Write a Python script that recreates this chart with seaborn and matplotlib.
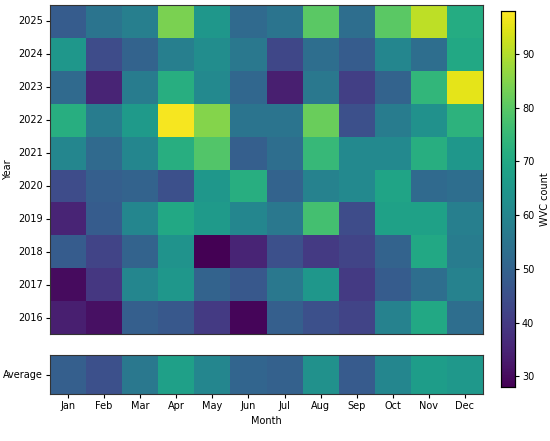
import numpy as np
import pandas as pd
import matplotlib
matplotlib.use("Agg")
import matplotlib.pyplot as plt
import seaborn as sns

months = ["Jan", "Feb", "Mar", "Apr", "May", "Jun", "Jul", "Aug", "Sep", "Oct", "Nov", "Dec"]
years = [2025, 2024, 2023, 2022, 2021, 2020, 2019, 2018, 2017, 2016]

# monthly WVC counts (top row = 2025)
wvc_2025 = [48, 55, 58, 84, 65, 52, 55, 80, 53, 80, 91, 71]
wvc_2024 = [65, 44, 50, 58, 62, 56, 43, 53, 48, 60, 53, 70]
wvc_2023 = [52, 35, 57, 72, 61, 51, 34, 56, 41, 50, 74, 95]
wvc_2022 = [72, 57, 66, 97, 85, 55, 55, 82, 45, 57, 63, 73]
wvc_2021 = [60, 52, 60, 72, 79, 49, 53, 75, 61, 61, 72, 65]
wvc_2020 = [44, 49, 50, 45, 65, 72, 50, 59, 61, 69, 52, 53]
wvc_2019 = [35, 48, 60, 70, 66, 60, 56, 77, 44, 68, 68, 58]
wvc_2018 = [48, 42, 50, 64, 28, 35, 45, 40, 42, 50, 70, 57]
wvc_2017 = [30, 39, 60, 65, 50, 47, 56, 65, 40, 48, 53, 59]
wvc_2016 = [34, 31, 49, 47, 40, 29, 49, 45, 42, 59, 70, 53]

rows = [wvc_2025, wvc_2024, wvc_2023, wvc_2022, wvc_2021,
        wvc_2020, wvc_2019, wvc_2018, wvc_2017, wvc_2016]
df = pd.DataFrame(rows, index=years, columns=months)
avg = pd.DataFrame([df.mean(axis=0).values], index=["Average"], columns=months)

vmin, vmax = 28, 98

fig = plt.figure(figsize=(5.5, 4.41), dpi=100)
ax_main = fig.add_axes([50/550, 1 - 334/441, 433/550, 329/441])
ax_avg = fig.add_axes([50/550, 1 - 394/441, 433/550, 39/441])
cax = fig.add_axes([501/550, 1 - 387/441, 14/550, 376/441])

sns.heatmap(df, ax=ax_main, cmap="viridis", vmin=vmin, vmax=vmax,
            cbar_ax=cax, cbar_kws={"label": "WVC count"})
sns.heatmap(avg, ax=ax_avg, cmap="viridis", vmin=vmin, vmax=vmax, cbar=False)

fs = 7
ax_main.set_xticks([])
ax_main.set_xlabel("")
ax_main.set_ylabel("Year", fontsize=fs, labelpad=4)
ax_main.tick_params(axis="y", labelsize=fs, rotation=0, length=3, pad=2)
ax_avg.set_xlabel("Month", fontsize=fs, labelpad=4)
ax_avg.tick_params(axis="x", labelsize=fs, rotation=0, length=3, pad=2)
ax_avg.tick_params(axis="y", labelsize=fs, rotation=0, length=3, pad=2)
ax_avg.set_ylabel("")

for a in (ax_main, ax_avg):
    for s in a.spines.values():
        s.set_visible(True)
        s.set_color("#333333")
        s.set_linewidth(0.8)

cax.tick_params(labelsize=fs, length=3, pad=2)
cax.set_ylabel("WVC count", fontsize=fs, labelpad=4)
for s in cax.spines.values():
    s.set_visible(True)
    s.set_linewidth(0.8)

fig.savefig("out.png", dpi=100)
